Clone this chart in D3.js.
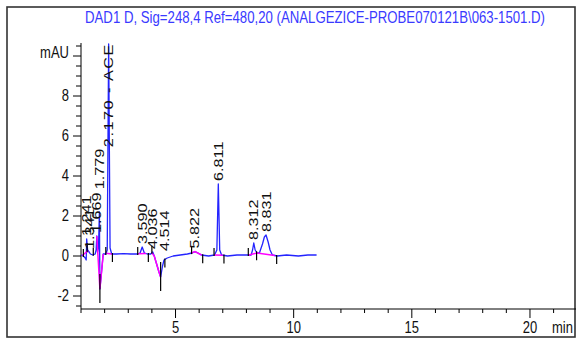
<!DOCTYPE html>
<html>
<head>
<meta charset="utf-8">
<script src="https://cdn.jsdelivr.net/npm/d3@7"></script>
<style>
  body { margin: 0; background: #fff; }
  svg { display: block; }
</style>
</head>
<body>
<div id="chart"></div>
<script>
// data
const title = "DAD1 D, Sig=248,4 Ref=480,20 (ANALGEZICE-PROBE070121B\\063-1501.D)";
const yUnit = "mAU";
const xUnit = "min";

const signalTime = [1.00, 1.10, 1.18, 1.22, 1.241, 1.28, 1.341, 1.40, 1.50, 1.60, 1.64, 1.669, 1.70, 1.74, 1.779, 1.80, 1.87, 1.94, 2.05, 2.11, 2.170, 2.23, 2.30,
  2.5, 2.8, 3.1, 3.4, 3.50, 3.590, 3.68, 3.8, 3.95, 4.036, 4.10, 4.20, 4.30, 4.37, 4.45, 4.514, 4.65, 4.9, 5.2, 5.5, 5.7, 5.822, 5.95, 6.1, 6.4, 6.65,
  6.75, 6.811, 6.87, 6.95, 7.2, 7.6, 8.0, 8.2, 8.26, 8.312, 8.37, 8.45, 8.55, 8.68, 8.76, 8.831, 8.92, 9.0, 9.1, 9.3, 9.7, 10.2, 10.6, 10.97];
const signalValue = [0.05, 0.0, -0.1, -0.2, 0.85, 0.3, 0.2, 0.1, 0.05, 0.1, 0.3, 1.0, 0.2, 0.4, 2.2, -1.65, -0.8, 0.1, 0.1, 0.3, 10.6, 0.4, 0.1,
  0.1, 0.12, 0.1, 0.1, 0.15, 0.45, 0.15, 0.1, 0.1, 0.2, 0.0, -0.4, -0.8, -1.05, -0.5, -0.2, -0.1, 0.0, 0.05, 0.1, 0.15, 0.22, 0.15, 0.05, 0.0, 0.05,
  0.3, 3.6, 0.3, 0.05, 0.0, 0.05, 0.05, 0.05, 0.3, 0.65, 0.3, 0.15, 0.15, 0.6, 0.95, 1.05, 0.7, 0.3, 0.05, 0.0, 0.05, 0.0, 0.05, 0.05];

// integrated peaks
const peakTimes = [1.241, 1.341, 1.669, 1.779, 2.170, 3.590, 4.036, 4.514, 5.822, 6.811, 8.312, 8.831];
const peakNames = ["", "", "", "", "ACE", "", "", "", "", "", "", ""];

// integration baselines (magenta) and start/end tick marks
const baselineRuns = [[1.05, 1.30], [1.669, 1.80, 1.94], [2.06, 2.30], [3.42, 3.75], [4.0, 4.1, 4.2, 4.3, 4.37], [5.65, 5.822, 6.1], [6.65, 7.0], [8.1, 8.45, 9.2]];
const eventTimes = [1.10, 1.26, 1.52, 1.80, 2.05, 2.33, 3.40, 3.85, 4.00, 4.37, 4.55, 5.68, 6.15, 6.63, 7.05, 8.08, 8.43, 9.28];
const eventKinds = ["s", "e", "s", "n", "s", "e", "s", "e", "s", "n", "e", "s", "e", "s", "e", "s", "e", "e"];

const xMajor = [5, 10, 15, 20];
const yMajor = [-2, 0, 2, 4, 6, 8, 10];

// layout
const width = 576, height = 341;
const stretch = 1.25; // the source picture is stretched vertically
const fontFamily = "'Liberation Sans', Arial, sans-serif";

const svg = d3.select("#chart").append("svg")
  .attr("width", width)
  .attr("height", height)
  .attr("font-family", fontFamily);

const x = d3.scaleLinear().domain([1, 22]).range([81, 81 + 21 * 23.63]);
const y = d3.scaleLinear().domain([-2.65, 10.65]).range([309, 43]);

const valueAt = (t) => {
  const i = d3.bisectLeft(signalTime, t);
  if (i <= 0) return signalValue[0];
  if (i >= signalTime.length) return signalValue[signalValue.length - 1];
  const t0 = signalTime[i - 1], t1 = signalTime[i];
  return signalValue[i - 1] + (signalValue[i] - signalValue[i - 1]) * (t - t0) / (t1 - t0);
};

// outer frame
svg.append("rect")
  .attr("x", 7).attr("y", 7)
  .attr("width", 568).attr("height", 330)
  .attr("fill", "none")
  .attr("stroke", "#333")
  .attr("stroke-width", 1.6);

// title
svg.append("text")
  .attr("transform", `translate(315,23) scale(1,${stretch})`)
  .attr("text-anchor", "middle")
  .attr("font-size", 13)
  .attr("fill", "#3a3aff")
  .attr("textLength", 460)
  .attr("lengthAdjust", "spacingAndGlyphs")
  .text(title);

const axes = svg.append("g").attr("stroke", "#000").attr("stroke-width", 1);

// y axis
axes.append("line")
  .attr("x1", x.range()[0]).attr("x2", x.range()[0])
  .attr("y1", y.range()[0]).attr("y2", y.range()[1]);
const yMinor = d3.range(-2.5, 10.6, 0.5);
axes.append("g").selectAll("line")
  .data(yMinor)
  .join("line")
  .attr("x1", x.range()[0])
  .attr("x2", (d) => x.range()[0] - (d % 2 === 0 ? 8 : 5))
  .attr("y1", (d) => y(d)).attr("y2", (d) => y(d));
svg.append("g").selectAll("text")
  .data(yMajor)
  .join("text")
  .attr("transform", (d) => `translate(69,${y(d) + 4.5 - (d === 10 ? 3 : 0)}) scale(1,${stretch})`)
  .attr("text-anchor", "end")
  .attr("font-size", 13)
  .attr("fill", "#111")
  .text((d) => (d === 10 ? yUnit : d));

// x axis
axes.append("line")
  .attr("x1", x.range()[0]).attr("x2", width)
  .attr("y1", y.range()[0]).attr("y2", y.range()[0]);
axes.append("g").selectAll("line")
  .data(d3.range(1, 22))
  .join("line")
  .attr("x1", (d) => x(d)).attr("x2", (d) => x(d))
  .attr("y1", y.range()[0])
  .attr("y2", (d) => y.range()[0] + (d % 5 === 0 ? 9 : 4));
svg.append("g").selectAll("text")
  .data(xMajor)
  .join("text")
  .attr("transform", (d) => `translate(${x(d)},333) scale(1,${stretch})`)
  .attr("text-anchor", "middle")
  .attr("font-size", 13)
  .attr("fill", "#111")
  .text((d) => d);
svg.append("text")
  .attr("transform", `translate(552,333) scale(1,${stretch})`)
  .attr("font-size", 13)
  .attr("fill", "#111")
  .text(xUnit);

// signal trace
const line = d3.line().x((d) => x(d[0])).y((d) => y(d[1]));
svg.append("path")
  .datum(d3.zip(signalTime, signalValue))
  .attr("fill", "none")
  .attr("stroke", "#2424ff")
  .attr("stroke-width", 1.3)
  .attr("stroke-linejoin", "round")
  .attr("d", line);

// integration baselines
svg.append("g").selectAll("path")
  .data(baselineRuns)
  .join("path")
  .attr("fill", "none")
  .attr("stroke", "#ff00ff")
  .attr("stroke-width", 1.5)
  .attr("d", (run) => line(run.map((t) => [t, valueAt(t)])));

// start / end tick marks
const tickSpan = { s: [-7, 1], e: [-1, 8], n: [-15, 14] };
svg.append("g").selectAll("line")
  .data(d3.zip(eventTimes, eventKinds))
  .join("line")
  .attr("stroke", "#000")
  .attr("stroke-width", 1.2)
  .attr("x1", (d) => x(d[0])).attr("x2", (d) => x(d[0]))
  .attr("y1", (d) => y(valueAt(d[0])) + tickSpan[d[1]][0])
  .attr("y2", (d) => y(valueAt(d[0])) + tickSpan[d[1]][1]);

// peak labels, rotated; stacked above the previous one when it covers the apex
const labels = svg.append("g").attr("font-size", 13).attr("fill", "#111");
let prev = null;
peakTimes.forEach((rt, i) => {
  const txt = rt.toFixed(3) + (peakNames[i] ? " - " + peakNames[i] : "");
  const px = x(rt);
  const apexY = y(Math.max(valueAt(rt), 0.1));
  const t = labels.append("text").attr("dy", "0.35em").text(txt);
  let len = t.node().getComputedTextLength() * stretch;
  if (peakNames[i]) {
    // named peaks are drawn with wider letter spacing
    t.attr("letter-spacing", 1.2);
    len = t.node().getComputedTextLength() * stretch;
  }
  let start = apexY - 3;
  if (prev && Math.abs(prev.x - px) < 4 && apexY < prev.start && apexY > prev.start - prev.len) {
    start = prev.start - prev.len - 3;
  }
  if (start - len < y.range()[1]) start = y.range()[1] + len;
  t.attr("transform", `translate(${px},${start}) rotate(-90) scale(${stretch},1)`);
  prev = { x: px, start, len };
});
</script>
</body>
</html>
